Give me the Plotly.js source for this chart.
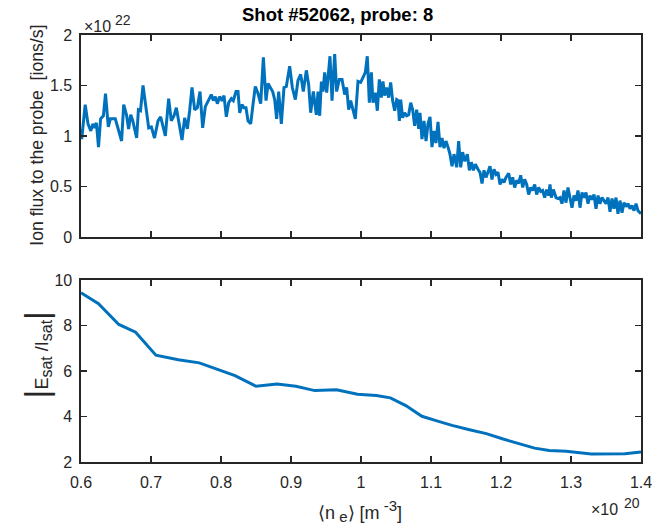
<!DOCTYPE html>
<html><head><meta charset="utf-8">
<script src="https://cdn.plot.ly/plotly-3.0.1.min.js"></script>
<style>html,body{margin:0;padding:0;background:#fff}</style>
</head><body><div id="chart" style="width:663px;height:525px"></div>
<script>
// Top panel: line-averaged density (x1e20 m^-3) vs ion flux to the probe (x1e22 ions/s)
const fluxDensity = [
0.600,0.601,0.606,0.610,0.614,0.617,0.6195,0.622,0.625,0.628,0.632,0.635,0.639,0.642,0.649,0.653,0.658,0.661,0.665,0.668,0.671,0.674,0.6795,0.682,0.685,0.6886,0.693,0.6967,0.7005,0.705,
0.710,0.7138,0.7205,0.7252,0.729,0.7329,0.7362,0.7395,0.7443,0.7481,0.7519,0.7552,0.7586,0.7624,0.7662,0.770,0.7738,0.7776,0.7814,0.7862,0.789,0.7919,0.7948,0.7981,0.8014,0.8043,0.8076,0.811,0.8148,0.8176,0.8214,
0.8243,0.8267,0.830,0.8329,0.8357,0.8386,0.8424,0.8457,0.849,0.8529,0.8567,0.8605,0.8643,0.8672,0.871,0.8738,0.8767,0.8795,0.8824,0.8862,0.890,0.8933,0.8981,0.9019,0.9062,0.910,0.9138,0.9176,0.9219,0.9252,0.9281,0.9319,0.9362,
0.9386,0.941,0.9434,0.9457,0.9481,0.951,0.9538,0.9557,0.9586,0.9624,0.9652,0.969,0.9729,0.9767,0.9795,0.9824,0.9852,0.9881,0.9919,0.9957,0.9995,1.0029,1.0062,1.009,1.0119,1.0148,1.0171,1.0205,1.0233,1.0262,1.029,1.0314,1.0338,1.0367,1.0395,1.0424,1.0452,1.0481,1.051,
1.0529,1.0548,1.0567,1.0595,1.0624,1.0652,1.0681,1.071,1.0738,1.0767,1.0795,1.0824,1.0843,1.0871,1.090,1.0929,1.0957,1.0986,1.1014,1.1043,1.1071,1.110,1.1129,1.1157,1.1186,1.1214,1.1243,1.1271,1.130,1.1329,1.1367,1.1395,1.1424,1.1452,1.1481,1.1519,1.1548,1.1576,1.1605,1.1633,
1.1671,1.170,1.1729,1.1757,1.1786,1.1814,1.1843,1.1871,1.190,1.1929,1.1957,1.1986,1.2014,1.2043,1.2071,1.211,1.2138,1.2167,1.2195,1.2224,1.2252,1.2281,1.231,1.2338,1.2367,1.2395,1.2424,1.2452,1.2481,1.251,1.2538,1.2567,1.2595,1.2624,1.2652,1.2681,1.270,1.2719,1.2748,1.2786,
1.2814,1.2843,1.2871,1.290,1.2929,1.2957,1.2986,1.3014,1.3043,1.3071,1.310,1.3129,1.3157,1.3186,1.3214,1.3243,1.3271,1.330,1.3329,1.3357,1.3386,1.3414,1.3443,1.3471,1.350,1.3529,1.3557,1.3586,1.3614,1.3643,1.3671,1.370,1.3729,1.3757,1.3786,1.3814,1.3843,1.3871,1.390,1.3929,1.3957,1.400
];
const ionFlux = [
1.07,0.97,1.31,1.12,1.05,1.12,1.08,1.13,0.89,1.17,1.20,1.42,1.09,1.17,1.17,1.08,0.95,1.31,1.21,1.07,1.21,1.15,0.98,1.26,1.25,1.50,1.25,1.08,1.09,0.98,
1.15,1.19,1.00,1.37,1.15,1.20,1.28,1.13,0.96,1.18,1.07,1.25,1.48,1.26,1.28,1.44,1.08,1.29,1.35,1.41,1.35,1.39,1.32,1.39,1.35,1.40,1.19,1.33,1.37,1.35,1.44,
1.44,1.23,1.31,1.28,1.28,1.15,1.12,1.31,1.49,1.42,1.32,1.78,1.35,1.52,1.48,1.44,1.36,1.17,1.44,1.12,1.48,1.49,1.69,1.48,1.36,1.55,1.61,1.44,1.65,1.51,1.23,1.44,1.21,
1.44,1.20,1.54,1.44,1.63,1.43,1.66,1.79,1.35,1.81,1.44,1.56,1.56,1.41,1.48,1.26,1.35,1.26,1.17,1.54,1.53,1.58,1.63,1.79,1.33,1.63,1.33,1.43,1.25,1.56,1.38,1.54,1.40,1.48,1.38,1.53,1.35,1.25,1.36,
1.35,1.15,1.36,1.18,1.23,1.20,1.21,1.33,1.26,1.10,1.26,1.07,1.23,0.97,1.15,0.95,1.12,1.19,0.89,1.05,0.93,1.14,0.89,0.98,0.88,0.95,0.89,0.82,0.70,0.82,0.69,0.95,0.69,0.84,0.75,0.82,0.66,0.74,0.66,0.72,
0.67,0.64,0.53,0.66,0.59,0.64,0.70,0.57,0.67,0.62,0.64,0.52,0.57,0.54,0.59,0.63,0.52,0.59,0.49,0.56,0.53,0.61,0.49,0.57,0.52,0.42,0.49,0.46,0.52,0.42,0.49,0.45,0.46,0.39,0.47,0.41,0.52,0.39,0.47,0.39,
0.38,0.39,0.33,0.46,0.34,0.49,0.38,0.29,0.41,0.36,0.46,0.29,0.44,0.39,0.44,0.33,0.41,0.37,0.42,0.28,0.41,0.33,0.39,0.36,0.33,0.39,0.25,0.38,0.28,0.39,0.23,0.36,0.24,0.34,0.30,0.33,0.28,0.31,0.26,0.33,0.26,0.23
];
// Bottom panel: |Esat/Isat| vs density
const ratioDensity = [0.600,0.625,0.654,0.678,0.707,0.739,0.769,0.799,0.820,0.850,0.880,0.907,0.934,0.965,0.995,1.022,1.042,1.064,1.087,1.106,1.130,1.155,1.179,1.203,1.227,1.248,1.269,1.293,1.329,1.353,1.377,1.400];
const esatIsat = [9.44,8.96,8.05,7.71,6.70,6.50,6.36,6.04,5.80,5.33,5.43,5.33,5.14,5.18,4.98,4.92,4.82,4.48,4.01,3.83,3.61,3.42,3.25,3.01,2.80,2.61,2.51,2.47,2.35,2.35,2.36,2.44];
const xTicks = [0.6,0.7,0.8,0.9,1.0,1.1,1.2,1.3,1.4];
const fluxTicks = [0,0.5,1,1.5,2];
const ratioTicks = [2,4,6,8,10];
const fluxExponent = '22';
const densityExponent = '20';

const lineColor = '#0072BD';
const axCol = '#262626';
const fontFam = '"Liberation Sans", Arial, Helvetica, sans-serif';

const traces = [
  {x: fluxDensity, y: ionFlux, type: 'scatter', mode: 'lines', xaxis: 'x', yaxis: 'y',
   line: {color: lineColor, width: 3}, hoverinfo: 'skip'},
  {x: ratioDensity, y: esatIsat, type: 'scatter', mode: 'lines', xaxis: 'x2', yaxis: 'y2',
   line: {color: lineColor, width: 3}, hoverinfo: 'skip'}
];

const axBase = {
  showline: true, linecolor: axCol, linewidth: 1.6, mirror: 'ticks',
  ticks: 'inside', ticklen: 6, tickwidth: 1.6, tickcolor: axCol,
  showgrid: false, zeroline: false, fixedrange: true,
  tickfont: {family: fontFam, size: 16, color: axCol}
};

function txt(text, x, y, size, extra) {
  return Object.assign({text: text, xref: 'paper', yref: 'paper', x: x, y: y,
    xanchor: 'left', yanchor: 'middle', showarrow: false,
    font: {family: fontFam, size: size, color: axCol}}, extra || {});
}

const layout = {
  width: 663, height: 525,
  margin: {l: 81, r: 22, t: 35, b: 63},
  paper_bgcolor: '#ffffff', plot_bgcolor: '#ffffff',
  showlegend: false,
  font: {family: fontFam, color: axCol},
  xaxis: Object.assign({}, axBase, {domain: [0, 1], anchor: 'y', range: [0.6, 1.4],
    tickmode: 'array', tickvals: xTicks, showticklabels: false}),
  yaxis: Object.assign({}, axBase, {domain: [0.527, 1], anchor: 'x', range: [0, 2],
    tickmode: 'array', tickvals: fluxTicks, ticklabelstandoff: 4}),
  xaxis2: Object.assign({}, axBase, {domain: [0, 1], anchor: 'y2', range: [0.6, 1.4],
    tickmode: 'array', tickvals: xTicks, ticktext: xTicks.map(v => String(+v.toFixed(1))), ticklabelstandoff: 5}),
  yaxis2: Object.assign({}, axBase, {domain: [0, 0.426], anchor: 'x2', range: [2, 10],
    tickmode: 'array', tickvals: ratioTicks, ticklabelstandoff: 4}),
  annotations: [
    txt('<b>Shot #52062, probe: 8</b>', 0.458, 1.047, 18.5, {xanchor: 'center', font: {family: fontFam, size: 18.5, color: '#000'}}),
    txt('×10', 0.002, 1.019, 16),
    txt(fluxExponent, 0.058, 1.034, 14),
    txt('×10', 0.908, -0.112, 16),
    txt(densityExponent, 0.966, -0.097, 14),
    txt('⟨n<sub><span style="font-size:15px"> e</span></sub>⟩ [m<sup><span style="font-size:15px"> -3</span></sup>]', 0.498, -0.115, 18, {xanchor: 'center'}),
    txt('Ion flux to the probe  [ions/s]', -0.079, 0.766, 17.6, {xanchor: 'center', textangle: -90}),
    txt('<span style="font-size:34px">|</span>E<sub><span style="font-size:16px">sat</span></sub> /I<sub><span style="font-size:16px">sat</span></sub><span style="font-size:34px">|</span>', -0.08, 0.25, 18, {xanchor: 'center', textangle: -90})
  ]
};

Plotly.newPlot('chart', traces, layout, {staticPlot: true, displayModeBar: false});
</script>
</body></html>
